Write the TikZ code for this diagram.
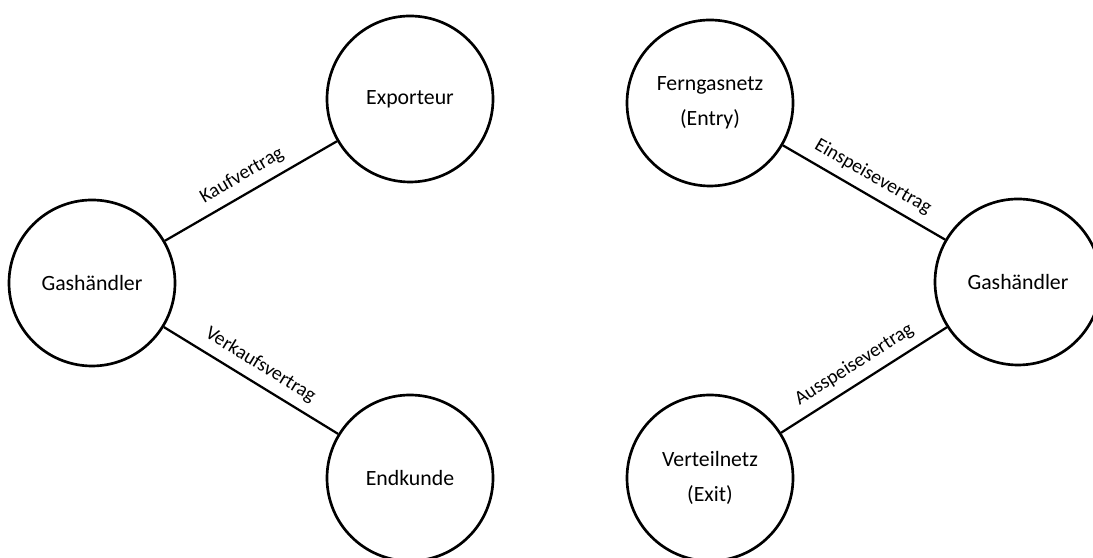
\documentclass[tikz,border=0pt]{standalone}
\usepackage{fontspec}
\setmainfont{Carlito}
\tikzset{
    akteur/.style={circle, draw, line width=1.9pt, minimum size=4.15cm, align=center, font=\fontsize{15.5}{25}\selectfont},
    vertrag/.style={line width=1.6pt},
    vlabel/.style={above, sloped, font=\fontsize{14}{16}\selectfont, inner sep=6pt}
}
\begin{document}
\begin{tikzpicture}
        \useasboundingbox (0,0) rectangle (27.325,13.95);
        % links
        \node[akteur] (gh1) at (2.3,6.875) {Gashändler};
        \node[akteur] (exp) at (10.25,11.475) {Exporteur};
        \node[akteur] (end) at (10.25,2.0) {Endkunde};
        \draw[vertrag] (gh1) -- (exp) node[midway, vlabel]{Kaufvertrag};
        \draw[vertrag] (gh1) -- (end) node[midway, vlabel]{Verkaufsvertrag};
        % rechts
        \node[akteur] (fgn) at (17.75,11.375) {Ferngasnetz\\(Entry)};
        \node[akteur] (gh2) at (25.45,6.9) {Gashändler};
        \node[akteur] (vtn) at (17.75,2.0) {Verteilnetz\\(Exit)};
        \draw[vertrag] (fgn) -- (gh2) node[midway, vlabel]{Einspeisevertrag};
        \draw[vertrag] (gh2) -- (vtn) node[midway, vlabel]{Ausspeisevertrag};
    \end{tikzpicture}
\end{document}
